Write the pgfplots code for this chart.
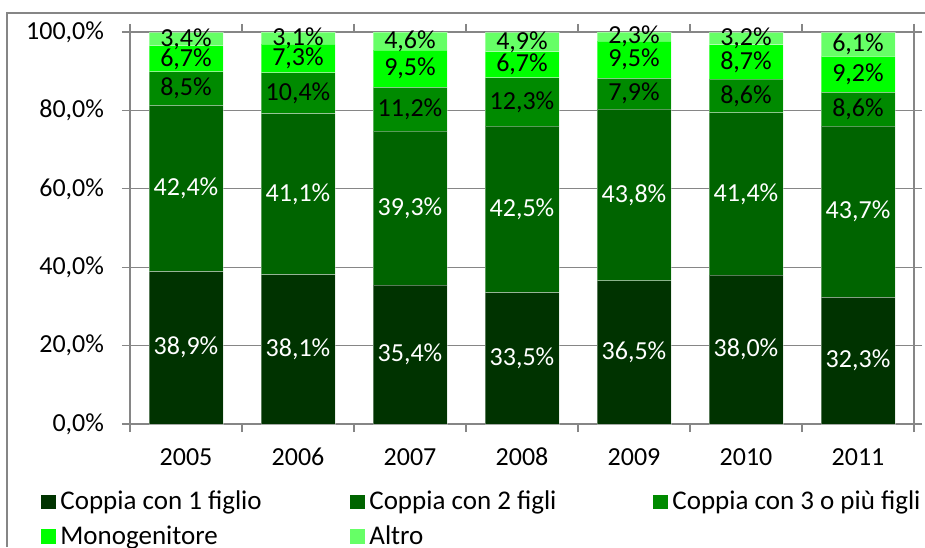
\documentclass[border=0pt]{standalone}
\usepackage{fontspec}
\setmainfont{Carlito}
\usepackage{pgfplots}
\pgfplotsset{compat=1.18}
\definecolor{gridgray}{HTML}{868686}
\definecolor{sA}{HTML}{003300}
\definecolor{sB}{HTML}{006400}
\definecolor{sC}{HTML}{008A00}
\definecolor{sD}{HTML}{00FF00}
\definecolor{sE}{HTML}{66FF66}
\newcommand\f{\fontsize{13pt}{15pt}\selectfont}
\newcommand\lf{\fontsize{13.5pt}{16pt}\selectfont}
\pgfplotsset{
  sq/.style={legend image code/.code={\fill[##1, draw=none] (-3pt,-3.7pt) rectangle (4.5pt,3.7pt);}},
  seg/.style={draw=white, draw opacity=0.35, line width=0.5pt},
}
\begin{document}
\begin{tikzpicture}
\useasboundingbox (0,0) rectangle (462.5pt,273.5pt);
\draw[gridgray, line width=0.75pt] (3.5pt,0) -- (3.5pt,267pt) -- (462.5pt,267pt);
\begin{axis}[
  at={(65pt,61.5pt)}, anchor=south west,
  scale only axis, width=392pt, height=196pt,
  ybar stacked, bar width=37pt,
  xmin=-0.5, xmax=6.5, ymin=0, ymax=100,
  xtick={0,...,6}, xticklabels={2005,2006,2007,2008,2009,2010,2011},
  ytick={0,20,...,100},
  /pgf/number format/assume math mode=true,
  yticklabel={\pgfmathprintnumber[fixed,fixed zerofill,precision=1,use comma]{\tick}\%},
  tick label style={font=\f, text=black},
  typeset ticklabels with strut,
  axis line style={gridgray, line width=0.6pt},
  ymajorgrids, grid style={gridgray, line width=0.6pt},
  tick style={gridgray, line width=0.6pt},
  tick align=outside, major tick length=4pt,
  xtick style={draw=none},
  extra x ticks={-0.5,0.5,...,6.5}, extra x tick labels={},
  extra x tick style={grid=none, xtick style={draw=gridgray}},
  xticklabel style={yshift=-2.5pt},
  yticklabel style={xshift=-5.5pt},
  nodes near coords={\pgfmathprintnumber[fixed,fixed zerofill,precision=1,use comma]{\pgfplotspointmeta}\%},
  every node near coord/.append style={font=\f, anchor=center, inner sep=0pt},
  legend style={at={(axis description cs:-0.1212,-0.1496)}, anchor=north west, draw=none, fill=none, font=\lf, row sep=2.5pt},
  legend columns=3, legend cell align=left,
]
\addplot[fill=sA, seg, sq, every node near coord/.append style={text=white}] coordinates {(0,38.9) (1,38.1) (2,35.4) (3,33.5) (4,36.5) (5,38.0) (6,32.3)};
\addplot[fill=sB, seg, sq, every node near coord/.append style={text=white}] coordinates {(0,42.4) (1,41.1) (2,39.3) (3,42.5) (4,43.8) (5,41.4) (6,43.7)};
\addplot[fill=sC, seg, sq] coordinates {(0,8.5) (1,10.4) (2,11.2) (3,12.3) (4,7.9) (5,8.6) (6,8.6)};
\addplot[fill=sD, seg, sq] coordinates {(0,6.7) (1,7.3) (2,9.5) (3,6.7) (4,9.5) (5,8.7) (6,9.2)};
\addplot[fill=sE, seg, sq] coordinates {(0,3.4) (1,3.1) (2,4.6) (3,4.9) (4,2.3) (5,3.2) (6,6.1)};
\legend{\makebox[143pt][l]{Coppia con 1 figlio},\makebox[140pt][l]{Coppia con 2 figli},Coppia con 3 o più figli,Monogenitore,Altro}
\end{axis}
\end{tikzpicture}
\end{document}
